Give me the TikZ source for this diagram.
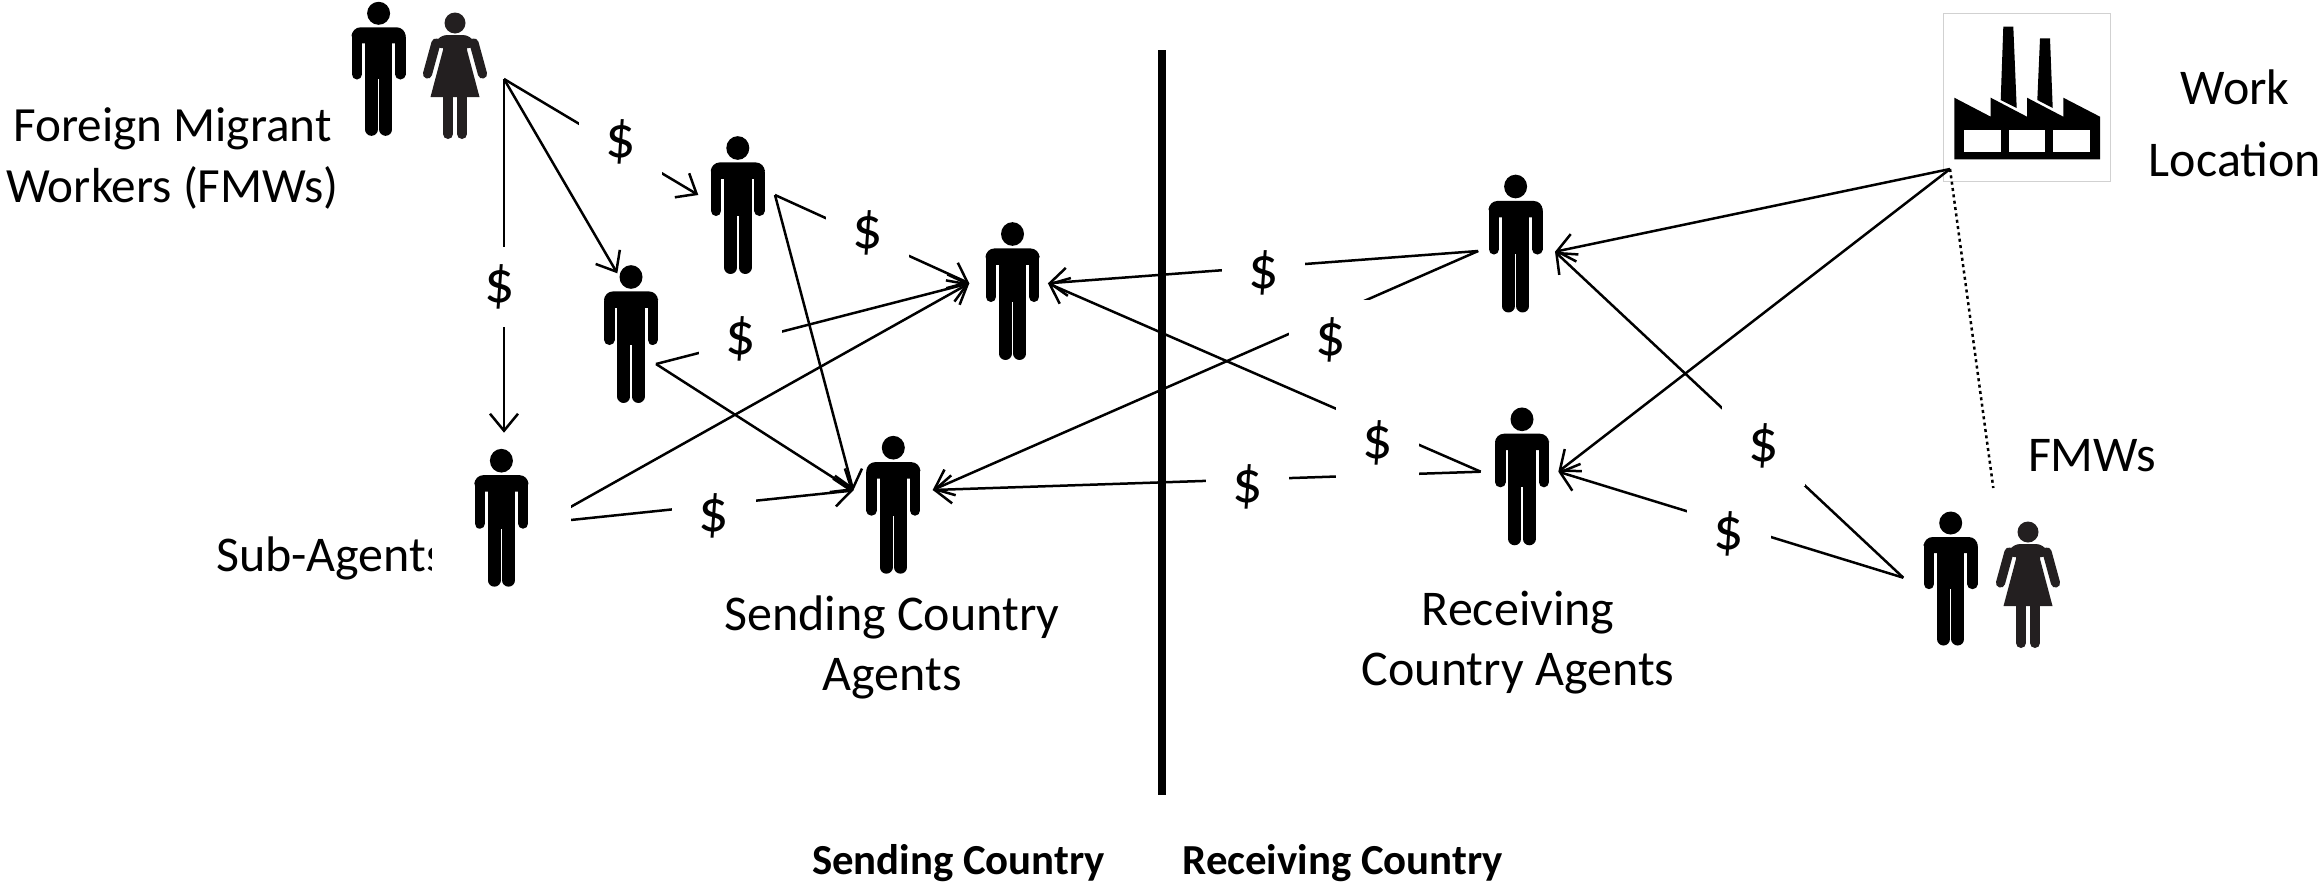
\documentclass[tikz,border=0pt]{standalone}
\usepackage{fontspec}
\setmainfont{Carlito}
\usetikzlibrary{arrows.meta}
\definecolor{womangray}{HTML}{231F20}

\tikzset{
	man/.pic={
		\fill (0,0) circle [radius=11.5];
		\fill[rounded corners=4.5pt] (-27,30) -- (-27,14) -- (27,14) -- (27,30) -- cycle;
		\fill (-13.7,20) rectangle (13.7,66);
		\draw[line width=5.2pt, line cap=round] (-21.7,24) -- (-21.7,61);
		\draw[line width=5.2pt, line cap=round] (21.7,24) -- (21.7,61);
		\draw[line width=6.5pt, line cap=round] (-7.2,60) -- (-7.2,116);
		\draw[line width=6.5pt, line cap=round] (7.2,60) -- (7.2,116);
	},
	woman/.pic={
		\fill[womangray] (0,0) circle [radius=10.5];
		\fill[womangray, rounded corners=4pt] (-22,25) -- (-16,12) -- (16,12) -- (22,25) -- cycle;
		\fill[womangray] (-12,20) -- (12,20) -- (12,27) -- (24.5,74) -- (-24.5,74) -- (-12,27) -- cycle;
		\draw[womangray, line width=4.6pt, line cap=round] (-19,20) -- (-27.5,51);
		\draw[womangray, line width=4.6pt, line cap=round] (19,20) -- (27.5,51);
		\draw[womangray, line width=5pt, line cap=round] (-7,70) -- (-7,111);
		\draw[womangray, line width=5pt, line cap=round] (7,70) -- (7,111);
	},
	agent/.style={yscale=1.03},
	biglabel/.style={inner sep=0pt, font=\fontsize{25}{30}\selectfont},
	boldlabel/.style={inner sep=0pt, anchor=base, font=\fontsize{21.4}{26}\selectfont\bfseries},
	dollar/.style={fill=white, inner sep=0pt, minimum width=41.6pt, minimum height=40pt, font=\fontsize{30}{34}\selectfont},
	link/.style={->, line width=1.25pt}
}

\begin{document}
\begin{tikzpicture}[x=0.5pt,y=-0.5pt,>={Straight Barb[length=8.5pt,width=14pt]}]
	\useasboundingbox (0,0) rectangle (2323,884);
	\node[biglabel, font=\fontsize{24.6}{30.5}\selectfont] (fmwtext) at (172.5,160) {\begin{tabular}{c} Foreign Migrant \\ Workers (FMWs) \end{tabular}};
	\node[biglabel, anchor=base west] (subtext) at (215.7,571.7) {Sub-Agents};
	\node[biglabel] (sendtext) at (892,648.5) {\begin{tabular}{c} Sending Country \\ Agents \end{tabular}};
	\node[biglabel] (recvtext) at (1518,643) {\begin{tabular}{c} Receiving \\ Country Agents \end{tabular}};
	\node[biglabel] (worktext) at (2235,128) {\begin{tabular}{c} Work \\[6pt] Location \end{tabular}};
	\node[biglabel, anchor=base] (fmwstext) at (2092,471.7) {FMWs};
	\node[boldlabel] (sendcountry) at (958.5,874.5) {Sending Country};
	\node[boldlabel] (recvcountry) at (1342.7,874.5) {Receiving Country};

	\node[draw=black!18, line width=0.5pt, minimum width=83.7pt, minimum height=84.3pt] (factory) at (2027,97.4) {};
	\fill (1990.7,97.7) -- (2027,116.7) -- (2027,97.7) -- (2063.3,116.7) -- (2063.3,97.7) -- (2100,116.7) -- (2100,159.3) -- (1954.3,159.3) -- (1954.3,97.7) -- (1990.7,116.7) -- cycle;
	\fill (2003.3,26.7) -- (2013.3,26.7) -- (2016.7,108) -- (2000.7,100) -- cycle;
	\fill (2040,38.3) -- (2050,38.3) -- (2052.7,108) -- (2037.3,100) -- cycle;
	\fill[white] (1964,130) rectangle (2000.7,151.7);
	\fill[white] (2008.7,130) rectangle (2045.3,151.7);
	\fill[white] (2053.3,130) rectangle (2090,151.7);

	\coordinate (fmwout) at (504,79);
	\coordinate (upperin) at (698.3,195);
	\coordinate (upperout) at (775,195);
	\coordinate (lowerin) at (617.3,273.3);
	\coordinate (lowerout) at (656,364);
	\coordinate (subin) at (504,432.7);
	\coordinate (subout) at (542,523);
	\coordinate (sendinl) at (853.3,490.5);
	\coordinate (sendinr) at (932.7,490);
	\coordinate (midinl) at (969.3,283.3);
	\coordinate (midinr) at (1047.9,283.3);
	\coordinate (recvupout) at (1478.2,251);
	\coordinate (recvupin) at (1555,251.7);
	\coordinate (recvdownout) at (1480.7,471.7);
	\coordinate (recvdownin) at (1558.3,471.7);
	\coordinate (workout) at (1950,169);
	\coordinate (fmwsout) at (1903.3,577.7);
	\coordinate (dotend) at (1993.3,488);

	\path [link] (fmwout) edge (upperin);
	\path [link] (fmwout) edge (lowerin);
	\path [link] (fmwout) edge (subin);
	\path [link] (upperout) edge (midinl);
	\path [link] (upperout) edge (sendinl);
	\path [link] (lowerout) edge (midinl);
	\path [link] (lowerout) edge (sendinl);
	\path [link] (subout) edge (midinl);
	\path [link] (subout) edge (sendinl);
	\path [link] (recvupout) edge (midinr);
	\path [link] (recvupout) edge (sendinr);
	\path [link] (recvdownout) edge (midinr);
	\path [link] (recvdownout) edge (sendinr);
	\path [link] (workout) edge (recvupin);
	\path [link] (workout) edge (recvdownin);
	\path [link] (fmwsout) edge (recvupin);
	\path [link] (fmwsout) edge (recvdownin);
	\draw[line width=1.25pt, dash pattern=on 1.5pt off 1.7pt] (workout) -- (dotend);

	\coordinate (bordertop) at (1162,50);
	\coordinate (borderbottom) at (1162,795);
	\draw[line width=4pt] (bordertop) -- (borderbottom);

	\node[dollar] (dollara) at (620.5,142) {\$};
	\node[dollar] (dollarb) at (500,287) {\$};
	\node[dollar] (dollarc) at (740.3,338.7) {\$};
	\node[dollar] (dollard) at (867.5,233.3) {\$};
	\node[dollar] (dollare) at (714,515.6) {\$};
	\node[dollar] (dollarf) at (1263.5,272.7) {\$};
	\node[dollar] (dollarg) at (1331,340.3) {\$};
	\node[dollar] (dollarh) at (1377.5,442.7) {\$};
	\node[dollar] (dollari) at (1247.3,486.5) {\$};
	\node[dollar] (dollarj) at (1763.2,446) {\$};
	\node[dollar] (dollark) at (1729,534) {\$};

	\node[fill=white, minimum width=69.2pt, minimum height=80pt] (subbox) at (501.6,520) {};

	\pic at (378.6,13.3) {man};
	\pic at (455,23) {woman};
	\pic[agent] at (737.8,148) {man};
	\pic[agent] at (631,277) {man};
	\pic[agent] at (501.4,460.7) {man};
	\pic[agent] at (893.3,447.7) {man};
	\pic[agent] at (1012.5,234) {man};
	\pic[agent] at (1515.6,186.5) {man};
	\pic[agent] at (1522,419.3) {man};
	\pic at (1950.7,523) {man};
	\pic at (2028,532) {woman};
\end{tikzpicture}
\end{document}
